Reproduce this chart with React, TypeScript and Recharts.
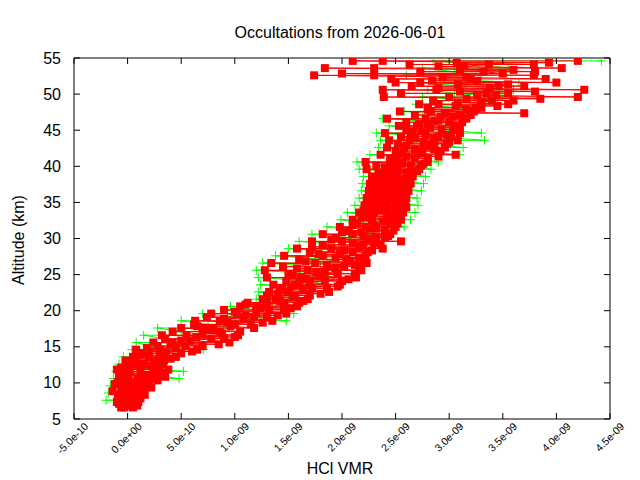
import React from "react";
import { ScatterChart, Scatter, XAxis, YAxis } from "recharts";

// VMR values are in units of 1e-10
const X_TICKS = [-5, 0, 5, 10, 15, 20, 25, 30, 35, 40, 45];
const X_TICK_LABELS = ["-5.0e-10", "0.0e+00", "5.0e-10", "1.0e-09", "1.5e-09", "2.0e-09", "2.5e-09", "3.0e-09", "3.5e-09", "4.0e-09", "4.5e-09"];
const Y_TICKS = [5, 10, 15, 20, 25, 30, 35, 40, 45, 50, 55];

// altitude grids (km)
const ALT_A = [
  6.6, 7.6, 8.6, 9.6, 10.6, 11.6, 12.6, 13.6, 14.6, 15.6,
  16.6, 17.6, 18.6, 19.6, 20.6, 21.6, 22.6, 23.6, 24.6, 25.6,
  26.6, 27.6, 28.6, 29.6, 30.6, 31.6, 32.6, 33.6, 34.6, 35.6,
  36.6, 37.6, 38.6, 39.6, 40.6, 41.6, 42.6, 43.6, 44.6, 45.6,
  46.6, 47.6, 48.6, 49.6, 50.6, 51.6, 52.6, 53.6, 54.6,
];
const ALT_B = [
  7.1, 8.1, 9.1, 10.1, 11.1, 12.1, 13.1, 14.1, 15.1, 16.1,
  17.1, 18.1, 19.1, 20.1, 21.1, 22.1, 23.1, 24.1, 25.1, 26.1,
  27.1, 28.1, 29.1, 30.1, 31.1, 32.1, 33.1, 34.1, 35.1, 36.1,
  37.1, 38.1, 39.1, 40.1, 41.1, 42.1, 43.1, 44.1, 45.1, 46.1,
  47.1, 48.1, 49.1, 50.1, 51.1, 52.1, 53.1, 54.1,
];
const ALT_C = [
  7.35, 8.35, 9.35, 10.35, 11.35, 12.35, 13.35, 14.35, 15.35, 16.35,
  17.35, 18.35, 19.35, 20.35, 21.35, 22.35, 23.35, 24.35, 25.35, 26.35,
  27.35, 28.35, 29.35, 30.35, 31.35, 32.35, 33.35, 34.35, 35.35, 36.35,
  37.35, 38.35, 39.35, 40.35, 41.35, 42.35, 43.35, 44.35, 45.35, 46.35,
  47.35, 48.35, 49.35, 50.35, 51.35, 52.35, 53.35, 54.35,
];
const ALT_D = [
  6.85, 7.85, 8.85, 9.85, 10.85, 11.85, 12.85, 13.85, 14.85, 15.85,
  16.85, 17.85, 18.85, 19.85, 20.85, 21.85, 22.85, 23.85, 24.85, 25.85,
  26.85, 27.85, 28.85, 29.85, 30.85, 31.85, 32.85, 33.85, 34.85, 35.85,
  36.85, 37.85, 38.85, 39.85, 40.85, 41.85, 42.85, 43.85, 44.85, 45.85,
  46.85, 47.85, 48.85, 49.85, 50.85, 51.85, 52.85, 53.85,
];
const ALT_GA = ALT_A.slice(1);
const ALT_GB = ALT_B.slice(1);

// red profiles
const RED_1 = [
  -0.6, -0.5, -0.2, 0.0, 0.1, 0.2, 0.3, 0.5, 0.8, 2.4,
  3.2, 5.0, 6.3, 7.8, 10.5, 12.6, 13.2, 13.6, 13.0, 12.8,
  13.4, 14.6, 15.8, 17.2, 18.2, 19.8, 21.0, 21.6, 22.1, 22.3,
  22.5, 22.6, 22.8, 22.3, 22.2, 23.6, 24.2, 24.4, 24.0, 25.3,
  24.2, 25.4, 27.2, 23.9, 23.8, 25.0, 17.4, 18.4, 21.0,
];
const RED_2 = [
  -0.3, 0.0, 0.3, 0.6, 0.9, 1.2, 1.5, 2.0, 3.0, 4.2,
  5.5, 7.0, 8.6, 10.2, 12.0, 13.8, 15.0, 15.6, 16.2, 16.8,
  17.5, 18.2, 19.0, 20.0, 21.0, 22.2, 22.8, 23.0, 23.3, 23.5,
  23.6, 23.9, 24.0, 24.2, 24.5, 25.2, 25.8, 26.3, 26.4, 27.0,
  27.8, 28.3, 29.0, 30.0, 28.8, 27.3, 23.0, 23.0, 23.8,
];
const RED_3 = [
  0.5, 0.8, 1.3, 1.8, 2.3, 2.8, 3.3, 4.5, 6.5, 9.5,
  10.3, 11.8, 13.5, 14.8, 15.8, 16.8, 18.8, 19.8, 21.3, 21.8,
  22.3, 22.2, 23.8, 25.5, 24.5, 25.0, 25.5, 25.7, 25.9, 26.0,
  26.2, 26.4, 26.6, 27.2, 28.0, 30.6, 29.6, 30.8, 31.0, 30.5,
  31.6, 32.3, 35.5, 42.0, 42.6, 40.0, 37.9, 40.5, 42.0,
];
const RED_4 = [
  0.2, 0.5, 0.9, 1.4, 1.9, 2.4, 2.8, 3.6, 5.4, 7.8,
  8.6, 10.0, 11.8, 13.2, 14.6, 15.6, 17.2, 18.4, 19.6, 20.2,
  20.4, 21.0, 22.0, 23.2, 24.0, 24.6, 24.8, 25.0, 25.0, 25.3,
  25.4, 25.6, 26.0, 26.4, 26.8, 27.5, 28.6, 29.0, 29.3, 30.0,
  31.0, 32.5, 34.0, 33.5, 34.6, 32.0, 33.2, 33.7,
];
const RED_5 = [
  -0.8, -0.4, 0.0, -0.9, -0.8, -0.6, -0.2, 1.4, 2.8, 3.5,
  4.2, 6.2, 7.4, 9.0, 11.2, 13.0, 14.4, 14.8, 15.0, 14.5,
  16.0, 17.0, 18.2, 19.4, 20.6, 21.4, 22.2, 22.6, 22.8, 23.0,
  23.2, 23.3, 23.4, 23.2, 24.5, 25.0, 25.2, 25.5, 26.0, 26.0,
  26.8, 28.0, 28.5, 25.5, 26.5, 24.6, 27.3, 26.3,
];
const RED_6 = [
  0.6, 1.1, 1.5, 2.0, 2.5, 3.0, 3.4, 5.0, 7.0, 9.0,
  10.5, 11.5, 13.0, 14.6, 16.0, 17.0, 18.6, 20.0, 21.2, 21.6,
  22.0, 22.4, 23.6, 24.0, 24.8, 25.2, 25.4, 25.5, 25.6, 25.8,
  26.0, 26.3, 26.6, 27.4, 28.0, 29.2, 29.8, 30.2, 30.4, 31.2,
  32.0, 33.0, 36.0, 35.5, 37.0, 39.0, 38.0, 37.9,
];
const RED_7 = [
  -1.0, -0.9, -0.6, -0.3, -0.2, 0.0, 0.6, 2.0, 4.0, 6.4,
  8.0, 9.3, 11.0, 12.4, 14.2, 14.0, 15.2, 16.6, 17.6, 18.6,
  19.4, 20.2, 21.0, 22.0, 23.2, 23.8, 24.2, 24.2, 24.4, 24.6,
  24.8, 25.0, 25.2, 25.6, 26.0, 26.8, 27.6, 27.8, 28.2, 28.6,
  29.6, 30.6, 31.6, 31.0, 30.8, 29.4, 31.0, 30.7,
];
const RED_8 = [
  1.0, 1.6, 2.2, 2.8, 3.2, 2.2, 4.0, 6.0, 8.5, 10.0,
  7.5, 12.6, 14.0, 15.2, 16.4, 18.0, 19.6, 20.6, 18.4, 21.2,
  21.6, 22.8, 23.0, 24.3, 22.6, 24.0, 24.6, 26.0, 25.8, 25.2,
  25.8, 26.2, 27.0, 27.6, 29.0, 28.6, 30.0, 29.8, 31.0, 29.0,
  37.0, 34.5, 38.5, 38.0, 35.5, 31.6, 36.0, 39.3,
];
const RED_9 = [
  0.9, 1.2, -1.4, -1.2, 3.5, 3.8, 2.5, 1.0, 1.8, 5.0,
  7.0, 9.6, 10.8, 12.0, 13.0, 15.4, 16.4, 17.0, 15.4, 15.8,
  16.6, 17.8, 17.2, 19.0, 20.0, 21.0, 22.6, 23.6, 24.0, 24.1,
  23.9, 24.4, 24.6, 24.8, 25.0, 25.6, 26.0, 26.8, 27.4, 28.0,
  29.2, 28.0, 30.8, 32.6, 29.0, 28.4, 20.0, 29.0,
];
const RED_10 = [
  -0.2, 0.4, 0.8, 1.0, 1.4, -1.0, 0.8, 3.0, 4.5, 5.8,
  8.8, 6.5, 9.0, 10.0, 11.0, 13.0, 14.2, 16.0, 18.0, 19.4,
  20.8, 19.8, 21.6, 22.4, 21.8, 23.0, 21.8, 22.0, 23.6, 24.6,
  24.0, 23.0, 23.8, 24.0, 24.8, 27.4, 28.2, 28.6, 26.6, 27.2,
  30.4, 31.6, 33.0, 34.4, 33.8, 32.6, 35.0, 31.4,
];

// green profiles
const GREEN_1 = [
  -2.0, -1.8, -1.6, -1.3, -1.1, -0.8, -0.4, 0.4, 0.8, 1.5,
  2.8, 5.0, 7.0, 9.6, 12.0, 12.2, 12.4, 12.2, 12.0, 12.6,
  13.8, 15.0, 16.0, 17.2, 18.6, 19.9, 20.5, 21.2, 21.6, 21.8,
  21.9, 22.0, 21.6, 21.4, 22.6, 23.4, 23.6, 23.2, 24.4, 23.8,
  25.8, 26.9, 27.5, 28.0, 27.0, 26.0, 27.5, 28.5,
];
const GREEN_2 = [
  -1.2, -0.8, 0.0, 4.8, 5.2, 3.0, 2.2, 7.1, 5.0, 6.0,
  9.5, 14.8, 15.5, 15.0, 16.0, 17.0, 18.5, 19.2, 19.0, 19.6,
  20.0, 20.5, 21.5, 23.0, 25.8, 26.4, 26.8, 27.1, 27.0, 27.4,
  27.6, 27.8, 28.3, 29.0, 31.0, 31.3, 33.3, 33.0, 30.0, 31.0,
  32.2, 34.5, 35.0, 36.0, 36.5, 33.0, 35.5, 44.2,
];
const GREEN_3 = [
  -0.8, -0.4, 0.3, 2.5, 1.0, 0.5, 1.2, 2.0, 3.5, 5.0,
  7.5, 10.0, 12.0, 13.5, 15.0, 16.0, 17.0, 17.5, 18.0, 18.6,
  19.5, 20.0, 20.6, 21.0, 22.0, 22.5, 23.5, 24.0, 24.5, 25.0,
  25.5, 26.0, 26.6, 27.0, 27.5, 28.0, 28.5, 29.0, 29.5, 30.0,
  31.0, 32.0, 30.5, 31.5, 29.5, 30.5, 32.7,
];

const toPoints = (alts: number[], vals: number[]) =>
  vals.map((v, i) => ({ x: v, y: alts[i] }));
const byAltitude = (a: { y: number }, b: { y: number }) => a.y - b.y;

const redData = [
  ...toPoints(ALT_A, RED_1),
  ...toPoints(ALT_A, RED_2),
  ...toPoints(ALT_A, RED_3),
  ...toPoints(ALT_B, RED_4),
  ...toPoints(ALT_B, RED_5),
  ...toPoints(ALT_B, RED_6),
  ...toPoints(ALT_C, RED_7),
  ...toPoints(ALT_C, RED_8),
  ...toPoints(ALT_D, RED_9),
  ...toPoints(ALT_D, RED_10),
].sort(byAltitude);

const greenData = [
  ...toPoints(ALT_GA, GREEN_1),
  ...toPoints(ALT_GA, GREEN_2),
  ...toPoints(ALT_GB, GREEN_3),
].sort(byAltitude);

const RED = "#ff0000";
const GREEN = "#00ff00";

const Square = (props: any) => {
  const { cx, cy } = props;
  if (cx == null || cy == null) return null;
  return <rect x={cx - 4} y={cy - 4} width={8} height={8} fill={RED} />;
};

const Plus = (props: any) => {
  const { cx, cy } = props;
  if (cx == null || cy == null) return null;
  return (
    <path
      d={`M${cx - 4.5},${cy}h9M${cx},${cy - 4.5}v9`}
      stroke={GREEN}
      strokeWidth={1}
      fill="none"
    />
  );
};

const BottomTick = (props: any) => {
  const { x, y, payload } = props;
  const label = X_TICK_LABELS[X_TICKS.indexOf(payload.value)];
  const tx = x + 15;
  const ty = y + 8;
  return (
    <g>
      <line x1={x} y1={y} x2={x} y2={y - 6} stroke="#000" />
      <text
        x={tx}
        y={ty}
        transform={`rotate(-45 ${tx} ${ty})`}
        textAnchor="end"
        fontSize={10.5}
        fill="#000"
      >
        {label}
      </text>
    </g>
  );
};

const TopTick = (props: any) => {
  const { x, y } = props;
  return <line x1={x} y1={y} x2={x} y2={y + 6} stroke="#000" />;
};

const LeftTick = (props: any) => {
  const { x, y, payload } = props;
  return (
    <g>
      <line x1={x} y1={y} x2={x + 6} y2={y} stroke="#000" />
      <text x={x - 13} y={y + 5.5} textAnchor="end" fontSize={16} fill="#000">
        {payload.value}
      </text>
    </g>
  );
};

const RightTick = (props: any) => {
  const { x, y } = props;
  return <line x1={x} y1={y} x2={x - 6} y2={y} stroke="#000" />;
};

export default function App() {
  return (
    <div
      style={{
        position: "absolute",
        left: 0,
        top: 0,
        width: 640,
        height: 480,
        background: "#fff",
        fontFamily: "'Liberation Sans', Arial, sans-serif",
      }}
    >
      <ScatterChart
        width={640}
        height={480}
        margin={{ top: 0, right: 0, bottom: 0, left: 0 }}
      >
        <XAxis
          xAxisId="bottom"
          dataKey="x"
          type="number"
          orientation="bottom"
          domain={[-5, 45]}
          ticks={X_TICKS}
          allowDataOverflow
          height={61}
          tickSize={0}
          tickMargin={0}
          tickLine={false}
          axisLine={{ stroke: "#000" }}
          tick={BottomTick}
          interval={0}
        />
        <XAxis
          xAxisId="top"
          dataKey="x"
          type="number"
          orientation="top"
          domain={[-5, 45]}
          ticks={X_TICKS}
          allowDataOverflow
          height={58}
          tickSize={0}
          tickMargin={0}
          tickLine={false}
          axisLine={{ stroke: "#000" }}
          tick={TopTick}
          interval={0}
        />
        <YAxis
          yAxisId="left"
          dataKey="y"
          type="number"
          orientation="left"
          domain={[5, 55]}
          ticks={Y_TICKS}
          allowDataOverflow
          width={74}
          tickSize={0}
          tickMargin={0}
          tickLine={false}
          axisLine={{ stroke: "#000" }}
          tick={LeftTick}
          interval={0}
        />
        <YAxis
          yAxisId="right"
          dataKey="y"
          type="number"
          orientation="right"
          domain={[5, 55]}
          ticks={Y_TICKS}
          allowDataOverflow
          width={30}
          tickSize={0}
          tickMargin={0}
          tickLine={false}
          axisLine={{ stroke: "#000" }}
          tick={RightTick}
          interval={0}
        />
        <Scatter
          xAxisId="bottom"
          yAxisId="left"
          data={greenData}
          fill={GREEN}
          line={{ stroke: GREEN, strokeWidth: 1 }}
          shape={Plus}
          isAnimationActive={false}
        />
        <Scatter
          xAxisId="bottom"
          yAxisId="left"
          data={redData}
          fill={RED}
          line={{ stroke: RED, strokeWidth: 1 }}
          shape={Square}
          isAnimationActive={false}
        />
      </ScatterChart>
      <svg
        width={640}
        height={480}
        style={{ position: "absolute", left: 0, top: 0, pointerEvents: "none" }}
      >
        <text x={340} y={38} textAnchor="middle" fontSize={16} fill="#000">
          Occultations from 2026-06-01
        </text>
        <text x={340} y={474} textAnchor="middle" fontSize={16} fill="#000">
          HCl VMR
        </text>
        <text
          x={24}
          y={240}
          transform="rotate(-90 24 240)"
          textAnchor="middle"
          fontSize={16}
          fill="#000"
        >
          Altitude (km)
        </text>
      </svg>
    </div>
  );
}
